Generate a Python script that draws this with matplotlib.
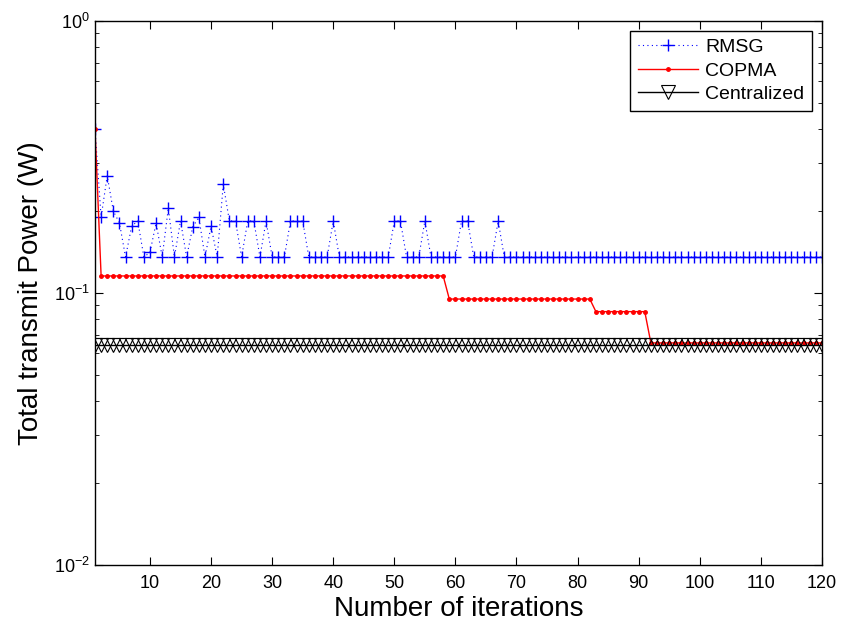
import matplotlib
matplotlib.use('Agg')
import matplotlib.pyplot as plt
import numpy as np

plt.rcParams['font.family'] = ['Liberation Sans', 'DejaVu Sans']
plt.rcParams['mathtext.fontset'] = 'custom'
plt.rcParams['mathtext.rm'] = 'Liberation Sans'

# iterations 1..120
iterations = np.arange(1, 121)

# RMSG: low / high plateau levels plus early transient values
rmsg_low = 0.1356
rmsg_high = 0.184
rmsg_early = [0.40, 0.190, 0.27, 0.200, 0.181, rmsg_low, 0.176, 0.184, rmsg_low, 0.141,
              0.181, rmsg_low, 0.205, rmsg_low, 0.184, rmsg_low, 0.175, 0.190, rmsg_low, 0.176,
              rmsg_low, 0.251]
rmsg_high_iters = [23, 24, 26, 27, 29, 33, 34, 35, 40, 50, 51, 55, 61, 62, 67]

# COPMA step levels: (first iteration, value)
copma_steps = [(1, 0.40), (2, 0.1155), (59, 0.095), (83, 0.0854), (92, 0.0655)]

# Centralized optimum
centralized_value = 0.0645

rmsg = np.full(len(iterations), rmsg_low)
rmsg[:len(rmsg_early)] = rmsg_early
for it in rmsg_high_iters:
    rmsg[it - 1] = rmsg_high

copma = np.zeros(len(iterations))
for start, val in copma_steps:
    copma[iterations >= start] = val

centralized = np.full(len(iterations), centralized_value)

fig = plt.figure(figsize=(8.43, 6.27), dpi=100)
ax = fig.add_axes([0.1127, 0.0989, 0.8623, 0.8676])

ax.plot(iterations, rmsg, color='blue', linestyle=(0, (1, 3)), linewidth=0.8,
        marker='+', markersize=9, markeredgewidth=1.0, label='RMSG')
ax.plot(iterations, copma, color='red', linestyle='-', linewidth=1.0,
        marker='.', markersize=5, label='COPMA')
ax.plot(iterations, centralized, color='black', linestyle='-', linewidth=1.0,
        marker='v', markersize=10, markerfacecolor='none', markeredgewidth=0.8,
        label='Centralized')

ax.set_yscale('log')
ax.set_xlim(1, 120)
ax.set_ylim(0.01, 1)
ax.set_xticks(np.arange(10, 121, 10))
ax.tick_params(which='both', direction='in', top=True, right=True, labelsize=13)
ax.tick_params(which='major', length=6)
ax.tick_params(which='minor', length=3)
ax.tick_params(axis='x', pad=7)

ax.set_xlabel('Number of iterations', fontsize=20, labelpad=3)
ax.set_ylabel('Total transmit Power (W)', fontsize=20, labelpad=7)

leg = ax.legend(loc='upper right', fontsize=14, fancybox=False, framealpha=1,
                edgecolor='black', handlelength=3.1, handletextpad=0.35,
                borderpad=0.4, labelspacing=0.3, borderaxespad=0.5)
leg.get_frame().set_linewidth(1.0)

for s in ax.spines.values():
    s.set_linewidth(1.0)

fig.savefig('out.png', dpi=100)
